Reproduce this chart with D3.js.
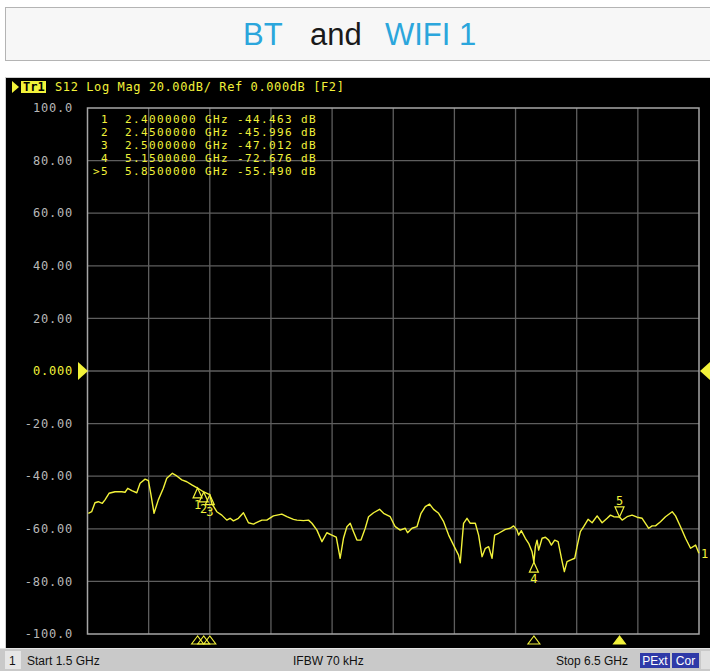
<!DOCTYPE html>
<html>
<head>
<meta charset="utf-8">
<script src="https://cdn.jsdelivr.net/npm/d3@7"></script>
<style>
html,body{margin:0;padding:0;background:#fff;}
svg{display:block;}
</style>
</head>
<body>
<svg id="c" width="710" height="671"></svg>
<script>
// ---------- data ----------
const traceFreq = [1.507,1.534,1.561,1.588,1.621,1.643,1.676,1.725,1.780,1.807,1.829,1.862,1.903,1.930,1.971,1.998,2.017,2.044,2.079,2.120,2.148,2.194,2.230,2.271,2.312,2.353,2.400,2.450,2.500,2.516,2.557,2.598,2.639,2.666,2.693,2.734,2.775,2.816,2.857,2.898,2.926,2.966,3.020,3.089,3.130,3.184,3.212,3.266,3.307,3.335,3.376,3.417,3.457,3.498,3.534,3.566,3.593,3.621,3.648,3.675,3.703,3.736,3.771,3.798,3.839,3.888,3.921,3.975,4.016,4.057,4.098,4.117,4.153,4.194,4.227,4.262,4.297,4.330,4.371,4.412,4.453,4.493,4.534,4.548,4.562,4.575,4.603,4.630,4.671,4.698,4.726,4.753,4.780,4.808,4.829,4.862,4.917,4.957,4.984,5.012,5.025,5.047,5.080,5.107,5.135,5.150,5.162,5.176,5.189,5.217,5.244,5.271,5.293,5.320,5.348,5.381,5.399,5.421,5.448,5.484,5.503,5.530,5.557,5.593,5.626,5.667,5.708,5.749,5.776,5.803,5.850,5.872,5.912,5.953,5.994,6.035,6.062,6.089,6.117,6.144,6.185,6.226,6.281,6.308,6.349,6.390,6.431,6.472,6.499];
const traceDb = [-54.1,-53.5,-50.1,-49.7,-50.3,-49.0,-46.5,-45.9,-45.9,-46.1,-44.6,-45.5,-46.3,-42.7,-41.1,-41.7,-46.5,-54.1,-49.0,-44.6,-40.8,-38.9,-39.9,-41.4,-42.1,-43.3,-44.5,-46.0,-47.0,-50.3,-53.5,-54.8,-56.7,-56.0,-57.0,-56.0,-53.9,-57.7,-58.2,-57.3,-56.7,-56.7,-55.1,-54.4,-55.4,-56.4,-56.7,-56.9,-56.7,-57.9,-60.5,-64.9,-61.5,-62.4,-63.2,-71.2,-63.6,-59.2,-57.9,-61.1,-64.3,-64.3,-59.8,-55.4,-53.9,-52.6,-54.1,-55.4,-59.2,-60.5,-59.8,-61.5,-59.8,-59.2,-54.1,-51.6,-50.6,-52.6,-54.1,-57.3,-62.4,-66.2,-70.0,-72.9,-64.9,-57.9,-56.0,-57.9,-57.9,-62.4,-70.6,-67.4,-66.8,-71.2,-62.4,-61.7,-60.2,-59.8,-58.9,-60.5,-62.4,-60.7,-63.6,-65.5,-68.7,-72.7,-66.8,-64.3,-68.1,-63.6,-63.2,-64.3,-66.2,-64.3,-64.9,-72.5,-76.3,-72.5,-71.9,-71.2,-66.8,-61.1,-59.2,-56.4,-57.7,-55.1,-57.7,-56.0,-54.8,-55.4,-55.5,-56.7,-55.4,-54.8,-55.6,-56.0,-57.9,-59.8,-58.9,-58.9,-57.3,-55.4,-53.5,-55.1,-59.2,-63.6,-67.4,-66.2,-69.3];

const markerNums  = ["1","2","3","4","5"];
const markerFreqs = [2.40,2.45,2.50,5.15,5.85];
const markerVals  = [-44.463,-45.996,-47.012,-72.676,-55.490];
const markerRows  = [" 1  2.4000000 GHz -44.463 dB",
                     " 2  2.4500000 GHz -45.996 dB",
                     " 3  2.5000000 GHz -47.012 dB",
                     " 4  5.1500000 GHz -72.676 dB",
                     ">5  5.8500000 GHz -55.490 dB"];
const activeMarker = "5";

const yTicks = [100,80,60,40,20,0,-20,-40,-60,-80,-100];
const yTickLabels = ["100.0","80.00","60.00","40.00","20.00","0.000","-20.00","-40.00","-60.00","-80.00","-100.0"];
const xTicks = [1.5,2.0,2.5,3.0,3.5,4.0,4.5,5.0,5.5,6.0,6.5];

const titleParts = ["BT","and","WIFI 1"];
const headerText = "S12 Log Mag 20.00dB/ Ref 0.000dB [F2]";
const startText = "Start 1.5 GHz";
const ifbwText = "IFBW 70 kHz";
const stopText = "Stop 6.5 GHz";

// ---------- drawing ----------
const svg = d3.select("#c");
const YEL = "#f2f23a";
const MONO = "'DejaVu Sans Mono', 'Liberation Mono', monospace";
const SANS = "'Liberation Sans', Arial, sans-serif";

// title box
svg.append("rect").attr("x",5.5).attr("y",7.5).attr("width",710).attr("height",53)
  .attr("fill","#f7f7f7").attr("stroke","#b4b4b4");
const titleX = [243,310,385];
const titleCol = ["#2ba6dc","#1a1a1a","#2ba6dc"];
svg.selectAll(".tt").data(titleParts).enter().append("text")
  .attr("x",(d,i)=>titleX[i]).attr("y",45)
  .attr("font-family",SANS).attr("font-size",31).attr("fill",(d,i)=>titleCol[i]).text(d=>d);

// instrument panel
svg.append("rect").attr("x",5).attr("y",77).attr("width",705).attr("height",571).attr("fill","#cfcfcf");
svg.append("rect").attr("x",6).attr("y",78).attr("width",704).attr("height",570).attr("fill","#000");

const x = d3.scaleLinear().domain([1.5,6.5]).range([87.5,699]);
const y = d3.scaleLinear().domain([-100,100]).range([634,108]);

// grid
const g = svg.append("g");
g.selectAll(".vg").data(xTicks.slice(1,-1)).enter().append("line")
  .attr("x1",d=>x(d)).attr("x2",d=>x(d)).attr("y1",y(100)).attr("y2",y(-100))
  .attr("stroke","#5e5e5e").attr("stroke-width",1.3);
g.selectAll(".hg").data(yTicks.slice(1,-1)).enter().append("line")
  .attr("x1",x(1.5)).attr("x2",x(6.5)).attr("y1",d=>y(d)).attr("y2",d=>y(d))
  .attr("stroke","#5e5e5e").attr("stroke-width",1.3);
g.append("rect").attr("x",x(1.5)).attr("y",y(100)).attr("width",x(6.5)-x(1.5)).attr("height",y(-100)-y(100))
  .attr("fill","none").attr("stroke","#a6a6a6").attr("stroke-width",1.5);

// y labels
svg.selectAll(".yl").data(yTicks).enter().append("text")
  .attr("x",73).attr("y",d=>y(d)).attr("dy","0.35em").attr("text-anchor","end")
  .attr("font-family",MONO).attr("font-size",12).attr("letter-spacing",0.8)
  .attr("fill",(d)=>d===0?YEL:"#b8b8b8")
  .text((d,i)=>yTickLabels[i]);

// reference triangles
const y0 = y(0);
svg.append("path").attr("d",`M78,${y0-9} L88,${y0} L78,${y0+9} Z`).attr("fill",YEL);
svg.append("path").attr("d",`M710,${y0-9} L700,${y0} L710,${y0+9} Z`).attr("fill",YEL);

// header
svg.append("path").attr("d","M12,81 L19,87 L12,93 Z").attr("fill",YEL);
svg.append("rect").attr("x",21).attr("y",81).attr("width",25).attr("height",12).attr("fill",YEL);
svg.append("text").attr("x",23).attr("y",91).attr("font-family",MONO).attr("font-size",12)
  .attr("font-weight","bold").attr("fill","#000").text("Tr1");
svg.append("text").attr("x",55).attr("y",91).attr("font-family",MONO).attr("font-size",12)
  .attr("letter-spacing",0.6).attr("fill",YEL).attr("xml:space","preserve").text(headerText);

// marker table
svg.selectAll(".mr").data(markerRows).enter().append("text")
  .attr("x",93).attr("y",(d,i)=>123+i*13).attr("font-family",MONO).attr("font-size",11)
  .attr("letter-spacing",1.38)
  .attr("fill",YEL).attr("xml:space","preserve").style("white-space","pre").text(d=>d);

// trace
const pts = traceFreq.map((f,i)=>[f,traceDb[i]]);
const line = d3.line().x(d=>x(d[0])).y(d=>y(d[1]));
svg.append("path").datum(pts).attr("d",line).attr("fill","none")
  .attr("stroke",YEL).attr("stroke-width",1.4).attr("stroke-linejoin","round");

// trace-end label
svg.append("text").attr("x",x(6.5)+2).attr("y",y(traceDb[traceDb.length-1])+5)
  .attr("font-family",MONO).attr("font-size",12).attr("fill",YEL).text("1");

// markers on trace
markerNums.forEach((n,i)=>{
  const mx = x(markerFreqs[i]), my = y(markerVals[i]);
  const above = (n === activeMarker);
  if (above) {
    svg.append("path").attr("d",`M${mx},${my} L${mx-4.5},${my-10} L${mx+4.5},${my-10} Z`)
      .attr("fill","none").attr("stroke",YEL).attr("stroke-width",1.2);
    svg.append("text").attr("x",mx).attr("y",my-12).attr("text-anchor","middle")
      .attr("font-family",MONO).attr("font-size",12).attr("fill",YEL).text(n);
  } else {
    svg.append("path").attr("d",`M${mx},${my} L${mx-4.5},${my+10} L${mx+4.5},${my+10} Z`)
      .attr("fill","none").attr("stroke",YEL).attr("stroke-width",1.2);
    svg.append("text").attr("x",mx).attr("y",my+21).attr("text-anchor","middle")
      .attr("font-family",MONO).attr("font-size",12).attr("fill",YEL).text(n);
  }
  // bottom marker indicators
  svg.append("path").attr("d",`M${mx},${636} L${mx-6},${644} L${mx+6},${644} Z`)
    .attr("fill",n===activeMarker?YEL:"none").attr("stroke",YEL).attr("stroke-width",1.1);
});

// status bar
svg.append("rect").attr("x",0).attr("y",648).attr("width",710).attr("height",23).attr("fill","#c9c9c9");
svg.append("line").attr("x1",0).attr("x2",710).attr("y1",648.5).attr("y2",648.5).attr("stroke","#e4e4e4");
svg.append("rect").attr("x",5).attr("y",651).attr("width",16).attr("height",18).attr("fill","#e6e6e6");
svg.append("text").attr("x",9).attr("y",665).attr("font-family",SANS).attr("font-size",12).attr("fill","#111").text("1");
svg.append("text").attr("x",27).attr("y",665).attr("font-family",SANS).attr("font-size",12).attr("fill","#111").text(startText);
svg.append("text").attr("x",293).attr("y",665).attr("font-family",SANS).attr("font-size",12).attr("fill","#111").text(ifbwText);
svg.append("text").attr("x",556).attr("y",665).attr("font-family",SANS).attr("font-size",12).attr("fill","#111").text(stopText);
svg.append("rect").attr("x",640).attr("y",653).attr("width",30).attr("height",15).attr("fill","#2f3aa8");
svg.append("text").attr("x",655).attr("y",665).attr("text-anchor","middle").attr("font-family",SANS).attr("font-size",12).attr("fill","#fff").text("PExt");
svg.append("rect").attr("x",672).attr("y",653).attr("width",27).attr("height",15).attr("fill","#2f3aa8");
svg.append("text").attr("x",685.5).attr("y",665).attr("text-anchor","middle").attr("font-family",SANS).attr("font-size",12).attr("fill","#fff").text("Cor");
svg.append("rect").attr("x",701).attr("y",651).attr("width",9).attr("height",18).attr("fill","#e0e0e0");
</script>
</body>
</html>
